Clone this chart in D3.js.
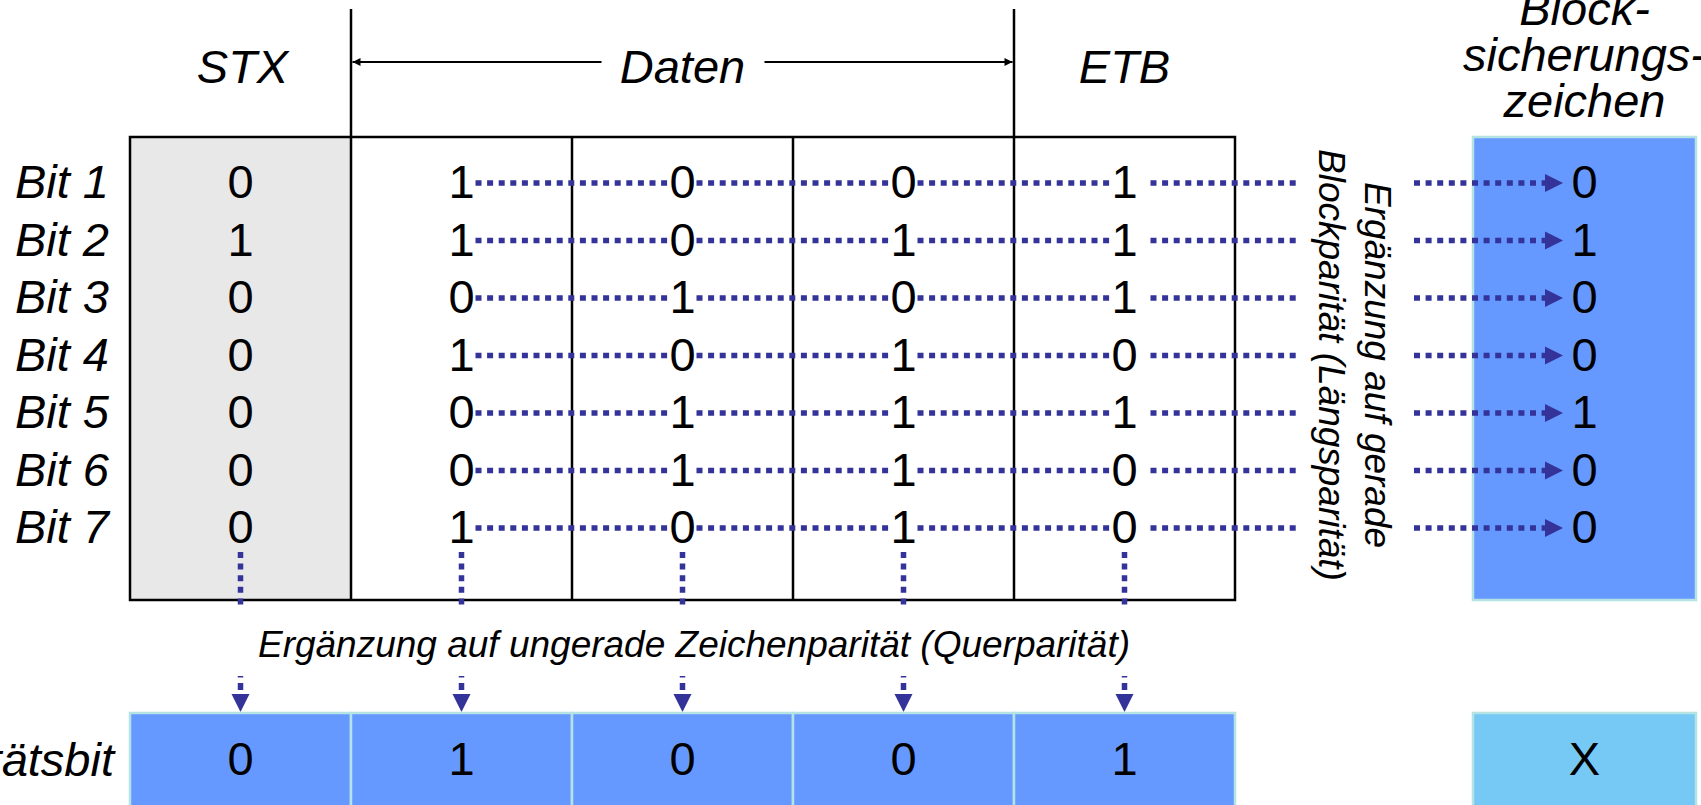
<!DOCTYPE html>
<html>
<head>
<meta charset="utf-8">
<script src="https://cdn.jsdelivr.net/npm/d3@7"></script>
<style>
  html, body { margin: 0; padding: 0; background: #ffffff; overflow: hidden; }
  svg { display: block; font-family: "Liberation Sans", Arial, sans-serif; }
</style>
</head>
<body>
<svg id="chart" width="1701" height="805"></svg>
<script>
// ---------- data ----------
const columnKeys   = ["STX", "D1", "D2", "D3", "ETB"];
const headerLabels = ["STX", "ETB"];
const dataLabel    = "Daten";
const blockLabel   = ["Block-", "sicherungs-", "zeichen"];
const rowLabels    = ["Bit 1", "Bit 2", "Bit 3", "Bit 4", "Bit 5", "Bit 6", "Bit 7"];
const stxBits      = [0, 1, 0, 0, 0, 0, 0];
const data1Bits    = [1, 1, 0, 1, 0, 0, 1];
const data2Bits    = [0, 0, 1, 0, 1, 1, 0];
const data3Bits    = [0, 1, 0, 1, 1, 1, 1];
const etbBits      = [1, 1, 1, 0, 1, 0, 0];
const blockCheck   = [0, 1, 0, 0, 1, 0, 0];
const parityBits   = [0, 1, 0, 0, 1];
const cornerValue  = "X";
const parityRowLabel = "Paritätsbit";
const queryText    = "Ergänzung auf ungerade Zeichenparität (Querparität)";
const blockText    = ["Ergänzung auf gerade", "Blockparität (Längsparität)"];

const bitColumns = [stxBits, data1Bits, data2Bits, data3Bits, etbBits];

// ---------- styles ----------
const DOT = "#333399";
const BLUE = "#6699FF";
const LIGHTBLUE = "#77C9F5";
const CELLBORDER = "#B5E3E3";
const GRAY = "#E8E8E8";

const svg = d3.select("#chart");

// ---------- scales ----------
const x = d3.scaleBand().domain(columnKeys).range([130, 1235]).padding(0);
const cx = k => x(k) + x.bandwidth() / 2;
const y = d3.scalePoint().domain(rowLabels).range([181, 526]);
const boxTop = 137, boxBottom = 600;
const blockX0 = 1473, blockX1 = 1696;
const blockCx = (blockX0 + blockX1) / 2;
const bottomTop = 713;

const defs = svg.append("defs");
defs.append("marker").attr("id", "blackArrow")
  .attr("viewBox", "0 0 10 10").attr("refX", 10).attr("refY", 5)
  .attr("markerWidth", 5).attr("markerHeight", 4).attr("markerUnits", "strokeWidth")
  .attr("orient", "auto-start-reverse")
  .append("path").attr("d", "M0,0 L10,5 L0,10 z").attr("fill", "#000");

// ---------- main box ----------
svg.append("rect")
  .attr("x", x("STX")).attr("y", boxTop)
  .attr("width", x.bandwidth()).attr("height", boxBottom - boxTop)
  .attr("fill", GRAY);

svg.append("rect")
  .attr("x", x("STX")).attr("y", boxTop)
  .attr("width", x.range()[1] - x.range()[0]).attr("height", boxBottom - boxTop)
  .attr("fill", "none").attr("stroke", "#000").attr("stroke-width", 2.5);

columnKeys.slice(1).forEach(k => {
  svg.append("line")
    .attr("x1", x(k)).attr("x2", x(k))
    .attr("y1", boxTop).attr("y2", boxBottom)
    .attr("stroke", "#000").attr("stroke-width", 2.5);
});

// tall separators for header
[x("D1"), x("ETB")].forEach(px => {
  svg.append("line")
    .attr("x1", px).attr("x2", px).attr("y1", 9).attr("y2", boxTop)
    .attr("stroke", "#000").attr("stroke-width", 2.5);
});

// ---------- headers ----------
const hdrFont = 47;
svg.append("text").attr("x", cx("STX") + 2).attr("y", 83)
  .attr("text-anchor", "middle").attr("font-style", "italic").attr("font-size", hdrFont)
  .text(headerLabels[0]);
svg.append("text").attr("x", cx("ETB")).attr("y", 83)
  .attr("text-anchor", "middle").attr("font-style", "italic").attr("font-size", hdrFont)
  .text(headerLabels[1]);

const dL = x("D1"), dR = x("ETB"), dMid = (dL + dR) / 2;
svg.append("text").attr("x", dMid).attr("y", 83)
  .attr("text-anchor", "middle").attr("font-style", "italic").attr("font-size", hdrFont)
  .text(dataLabel);
svg.append("line").attr("x1", dMid - 81).attr("x2", dL + 1.5).attr("y1", 62).attr("y2", 62)
  .attr("stroke", "#000").attr("stroke-width", 2).attr("marker-end", "url(#blackArrow)");
svg.append("line").attr("x1", dMid + 82).attr("x2", dR - 1.5).attr("y1", 62).attr("y2", 62)
  .attr("stroke", "#000").attr("stroke-width", 2).attr("marker-end", "url(#blackArrow)");

blockLabel.forEach((t, i) => {
  svg.append("text").attr("x", blockCx).attr("y", 25 + i * 46)
    .attr("text-anchor", "middle").attr("font-style", "italic").attr("font-size", hdrFont)
    .text(t);
});

// ---------- block check box ----------
svg.append("rect")
  .attr("x", blockX0).attr("y", boxTop)
  .attr("width", blockX1 - blockX0).attr("height", boxBottom - boxTop)
  .attr("fill", BLUE).attr("stroke", CELLBORDER).attr("stroke-width", 2.5);

// ---------- row labels ----------
svg.selectAll("text.rowlab").data(rowLabels).enter().append("text")
  .attr("class", "rowlab")
  .attr("x", 109).attr("y", d => y(d) + 17)
  .attr("text-anchor", "end").attr("font-style", "italic").attr("font-size", 47)
  .text(d => d);

// ---------- dotted horizontal lines ----------
const dotStyle = sel => sel.attr("stroke", DOT).attr("stroke-width", 5.5)
  .attr("stroke-dasharray", "6 5.6").attr("fill", "none");

rowLabels.forEach((r, i) => {
  const yy = y(r) + 2;
  for (let c = 1; c < columnKeys.length - 1; c++) {
    svg.append("line")
      .attr("x1", cx(columnKeys[c]) + 14).attr("x2", cx(columnKeys[c + 1]) - 14)
      .attr("y1", yy).attr("y2", yy).call(dotStyle);
  }
  svg.append("line")
    .attr("x1", cx("ETB") + 26).attr("x2", 1300)
    .attr("y1", yy).attr("y2", yy).call(dotStyle);
  svg.append("line")
    .attr("x1", 1414).attr("x2", 1546)
    .attr("y1", yy).attr("y2", yy).call(dotStyle);
  svg.append("path")
    .attr("d", `M1545,${yy - 9} L1563,${yy} L1545,${yy + 9} Z`)
    .attr("fill", DOT);
});

// ---------- bit digits ----------
bitColumns.forEach((bits, c) => {
  svg.selectAll(null).data(bits).enter().append("text")
    .attr("x", cx(columnKeys[c])).attr("y", (d, i) => y(rowLabels[i]) + 17)
    .attr("text-anchor", "middle").attr("font-size", 47)
    .text(d => d);
});
svg.selectAll(null).data(blockCheck).enter().append("text")
  .attr("x", blockCx).attr("y", (d, i) => y(rowLabels[i]) + 17)
  .attr("text-anchor", "middle").attr("font-size", 47)
  .text(d => d);

// ---------- vertical dotted lines below columns ----------
columnKeys.forEach(k => {
  svg.append("line")
    .attr("x1", cx(k)).attr("x2", cx(k))
    .attr("y1", 552).attr("y2", 607).call(dotStyle);
  svg.append("line")
    .attr("x1", cx(k)).attr("x2", cx(k))
    .attr("y1", 676).attr("y2", 692)
    .attr("stroke", DOT).attr("stroke-width", 5.5)
    .attr("stroke-dasharray", "1.5 5.5 7 20");
  svg.append("path")
    .attr("d", `M${cx(k) - 9},694 L${cx(k) + 9},694 L${cx(k)},712 Z`)
    .attr("fill", DOT);
});

// ---------- annotation texts ----------
svg.append("text").attr("x", 694).attr("y", 657)
  .attr("text-anchor", "middle").attr("font-style", "italic").attr("font-size", 37)
  .text(queryText);

svg.append("text")
  .attr("transform", "translate(1365,365) rotate(90)")
  .attr("text-anchor", "middle").attr("font-style", "italic").attr("font-size", 37)
  .text(blockText[0]);
svg.append("text")
  .attr("transform", "translate(1319,365) rotate(90)")
  .attr("text-anchor", "middle").attr("font-style", "italic").attr("font-size", 37)
  .text(blockText[1]);

// ---------- parity row ----------
svg.selectAll("rect.par").data(parityBits).enter().append("rect")
  .attr("class", "par")
  .attr("x", (d, i) => x(columnKeys[i])).attr("y", bottomTop)
  .attr("width", x.bandwidth()).attr("height", 140)
  .attr("fill", BLUE).attr("stroke", CELLBORDER).attr("stroke-width", 2.5);
svg.selectAll(null).data(parityBits).enter().append("text")
  .attr("x", (d, i) => cx(columnKeys[i])).attr("y", 775)
  .attr("text-anchor", "middle").attr("font-size", 47)
  .text(d => d);

svg.append("rect")
  .attr("x", blockX0).attr("y", bottomTop)
  .attr("width", blockX1 - blockX0).attr("height", 140)
  .attr("fill", LIGHTBLUE).attr("stroke", CELLBORDER).attr("stroke-width", 2.5);
svg.append("text").attr("x", blockCx).attr("y", 775)
  .attr("text-anchor", "middle").attr("font-size", 47)
  .text(cornerValue);

svg.append("text").attr("x", 114).attr("y", 776)
  .attr("text-anchor", "end").attr("font-style", "italic").attr("font-size", 47)
  .text(parityRowLabel);
</script>
</body>
</html>
